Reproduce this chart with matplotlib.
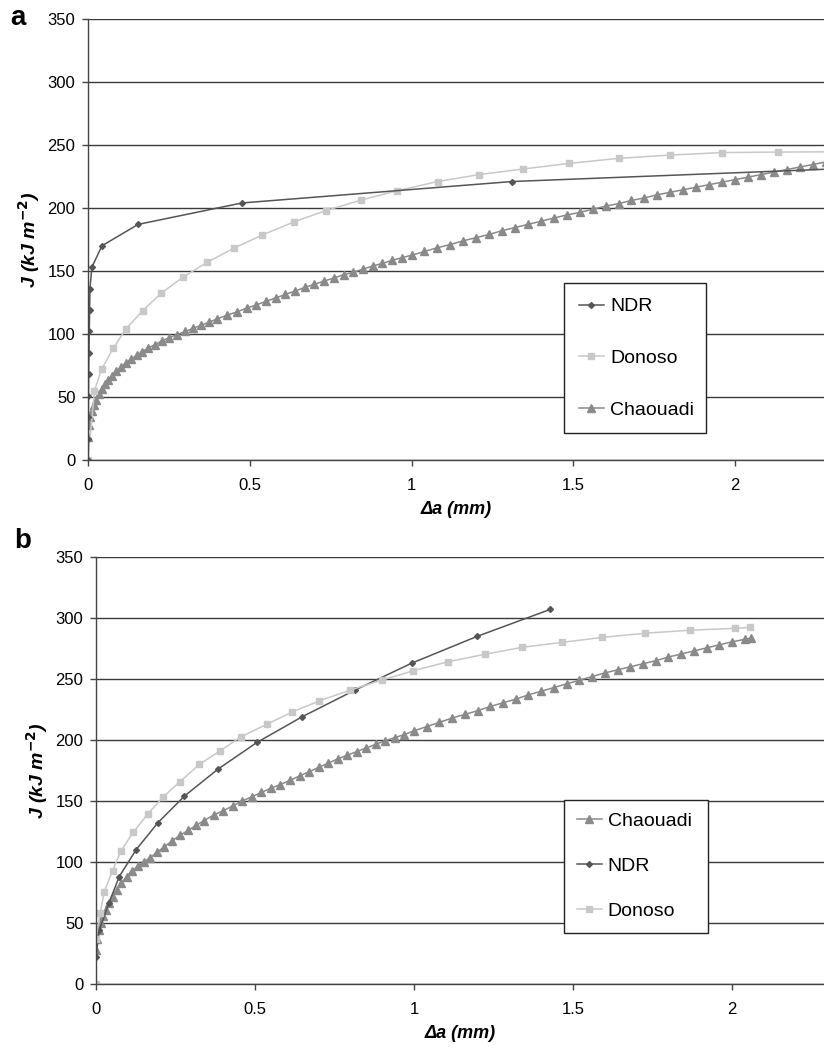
import numpy as np
import matplotlib
matplotlib.use("Agg")
import matplotlib.pyplot as plt

plt.rcParams['font.family'] = ['Liberation Sans', 'DejaVu Sans']

# ---- panel a data ----
a_ndr_x = [0.0, 0.0005, 0.001, 0.0015, 0.002, 0.003, 0.004, 0.005, 0.006,
           0.012, 0.043, 0.155, 0.476, 1.31, 3.0]
a_ndr_y = [0, 17, 34, 51, 68, 85, 102, 119, 136, 153, 170, 187, 204, 221, 238]

a_don_x = [0.0, 0.02, 0.042, 0.078, 0.117, 0.169, 0.227, 0.293, 0.369, 0.45,
           0.539, 0.637, 0.736, 0.844, 0.956, 1.081, 1.209, 1.346, 1.488,
           1.64, 1.798, 1.961, 2.132, 2.3]
a_don_y = [0, 55, 72, 88.6, 104, 118.5, 132.5, 145, 157, 168, 178.6, 189,
           198, 206.3, 213.7, 221, 226.5, 231, 235.4, 239.4, 242, 244, 244.4,
           244.6]

a_cha_x = [0.0, 0.003, 0.007, 0.012, 0.018, 0.025, 0.033, 0.042, 0.052, 0.063,
           0.075, 0.088, 0.102, 0.117, 0.133, 0.15, 0.168, 0.187, 0.207, 0.228,
           0.25, 0.275, 0.3, 0.325, 0.35, 0.375, 0.4, 0.43, 0.46, 0.49, 0.52,
           0.55, 0.58, 0.61, 0.64, 0.67, 0.7, 0.73, 0.76, 0.79, 0.82, 0.85,
           0.88, 0.91, 0.94, 0.97, 1.0, 1.04, 1.08, 1.12, 1.16, 1.2, 1.24,
           1.28, 1.32, 1.36, 1.4, 1.44, 1.48, 1.52, 1.56, 1.6, 1.64, 1.68,
           1.72, 1.76, 1.8, 1.84, 1.88, 1.92, 1.96, 2.0, 2.04, 2.08, 2.12,
           2.16, 2.2, 2.24, 2.28]
a_cha_y = [18, 28, 34, 39, 44, 48, 52, 56, 60, 63.5, 67, 70.5, 73.5, 77, 80,
           83, 86, 89, 91.5, 94.5, 97, 99.5, 102, 104.5, 107, 109.5, 112, 115,
           117.5, 120.5, 123, 126, 128.5, 131.5, 134, 137, 139.5, 142, 144.5,
           147, 149, 151.5, 154, 156, 158.5, 160.5, 162.5, 165.5, 168.5, 171,
           174, 176.5, 179, 182, 184.5, 187, 189.5, 192, 194.5, 196.5, 199,
           201.5, 203.5, 206, 208, 210.5, 212.5, 214.5, 216.5, 218.5, 220.5,
           222.5, 224.5, 226.5, 228.5, 230.5, 232.5, 234.5, 236.5]

# ---- panel b data ----
b_ndr_x = [0.0, 0.01, 0.04, 0.073, 0.126, 0.194, 0.278, 0.383, 0.506, 0.648,
           0.815, 0.993, 1.199, 1.428]
b_ndr_y = [22, 44, 66, 88, 110, 132, 154, 176, 198, 219, 241, 263, 285, 307]

b_don_x = [0.0, 0.0, 0.013, 0.026, 0.052, 0.079, 0.117, 0.162, 0.21, 0.264,
           0.325, 0.391, 0.456, 0.537, 0.615, 0.702, 0.80, 0.898, 0.998,
           1.108, 1.222, 1.341, 1.465, 1.592, 1.726, 1.868, 2.009, 2.058]
b_don_y = [0, 37, 58, 75.7, 92.9, 109.3, 124.3, 139.1, 153, 165.8, 180,
           191.2, 202.7, 212.9, 222.7, 232, 241, 249, 256.8, 264.2, 270.2,
           276, 280, 284.1, 287.5, 290, 291.5, 292.3]

b_cha_x = [0.0, 0.004, 0.009, 0.015, 0.022, 0.03, 0.04, 0.052, 0.065, 0.08,
           0.096, 0.113, 0.131, 0.15, 0.17, 0.192, 0.215, 0.24, 0.265, 0.29,
           0.315, 0.34, 0.37, 0.4, 0.43, 0.46, 0.49, 0.52, 0.55, 0.58, 0.61,
           0.64, 0.67, 0.7, 0.73, 0.76, 0.79, 0.82, 0.85, 0.88, 0.91, 0.94,
           0.97, 1.0, 1.04, 1.08, 1.12, 1.16, 1.2, 1.24, 1.28, 1.32, 1.36,
           1.4, 1.44, 1.48, 1.52, 1.56, 1.6, 1.64, 1.68, 1.72, 1.76, 1.8,
           1.84, 1.88, 1.92, 1.96, 2.0, 2.04, 2.06]
b_cha_y = [28, 37, 44, 50, 55.5, 60.5, 66, 71.5, 77, 82.5, 88, 92.5, 96.5,
           100, 103.5, 108, 112.5, 117.5, 122, 126, 130, 134, 138.5, 142, 146,
           150, 153.5, 157, 160.5, 163.5, 167, 170.5, 174, 177.5, 181, 184.5,
           187.5, 190.5, 193.5, 196.5, 199.5, 202, 204.5, 207.5, 211, 214.5,
           218, 221, 224, 227.5, 230.5, 233.5, 237, 240, 243, 246, 249, 252,
           255, 257.5, 260, 262.5, 265, 268, 270.5, 273, 275.5, 278, 280.5,
           282.5, 283.5]

x_ticks = [0, 0.5, 1, 1.5, 2]
x_tick_labels = ["0", "0.5", "1", "1.5", "2"]
y_ticks = list(range(0, 351, 50))

c_ndr = "#555555"
c_don = "#c8c8c8"
c_cha = "#8a8a8a"


def style_axes(ax, xmax):
    ax.set_xlim(0, xmax)
    ax.set_ylim(0, 350)
    ax.set_xticks(x_ticks)
    ax.set_xticklabels(x_tick_labels)
    ax.set_yticks(y_ticks)
    ax.tick_params(labelsize=12, length=4, width=1, color="#444444")
    ax.tick_params(axis="x", pad=9)
    ax.tick_params(axis="y", pad=5)
    ax.yaxis.grid(True, color="#3a3a3a", linewidth=1.0)
    ax.set_axisbelow(True)
    for s in ["top", "right"]:
        ax.spines[s].set_visible(False)
    for s in ["left", "bottom"]:
        ax.spines[s].set_color("#444444")
        ax.spines[s].set_linewidth(1.0)
    ax.set_ylabel("J (kJ m$^{\\mathbf{-2}}$)", fontsize=14, fontweight="bold",
                  fontstyle="italic", labelpad=4)
    ax.set_xlabel("Δa (mm)", fontsize=13, fontweight="bold",
                  fontstyle="italic", labelpad=6)


def plot_ndr(ax, x, y):
    ax.plot(x, y, "-", color=c_ndr, lw=1.1, marker="D", ms=3,
            mfc=c_ndr, mec=c_ndr, label="NDR", clip_on=True)


def plot_don(ax, x, y):
    ax.plot(x, y, "-", color=c_don, lw=1.1, marker="s", ms=4,
            mfc=c_don, mec=c_don, label="Donoso")


def plot_cha(ax, x, y):
    ax.plot(x, y, "-", color=c_cha, lw=1.1, marker="^", ms=5.5,
            mfc=c_cha, mec=c_cha, label="Chaouadi")


fig = plt.figure(figsize=(8.24, 10.53), dpi=100)

ax1 = fig.add_axes([88 / 824, 1 - 460 / 1053, 1 - 88 / 824, 441 / 1053])
plot_cha(ax1, a_cha_x, a_cha_y)
plot_don(ax1, a_don_x, a_don_y)
plot_ndr(ax1, a_ndr_x, a_ndr_y)
style_axes(ax1, (824 - 88) / 323.5)
h, l = ax1.get_legend_handles_labels()
order = [2, 1, 0]
leg1 = ax1.legend([h[i] for i in order], [l[i] for i in order],
                  loc="upper left", bbox_to_anchor=(0.647, 0.401, 0.193, 0.0),
                  mode="expand", fontsize=14, labelspacing=1.75,
                  borderpad=0.75, handlelength=1.3, handletextpad=0.3,
                  fancybox=False, framealpha=1, edgecolor="#222222",
                  borderaxespad=0)
leg1.get_frame().set_linewidth(1.0)

ax2 = fig.add_axes([96 / 824, 1 - 984 / 1053, 1 - 96 / 824, 427 / 1053])
plot_cha(ax2, b_cha_x, b_cha_y)
plot_ndr(ax2, b_ndr_x, b_ndr_y)
plot_don(ax2, b_don_x, b_don_y)
style_axes(ax2, (824 - 96) / 318)
leg2 = ax2.legend(loc="upper left", bbox_to_anchor=(0.643, 0.431, 0.198, 0.0),
                  mode="expand", fontsize=14, labelspacing=1.4,
                  borderpad=0.65, handlelength=1.3, handletextpad=0.3,
                  fancybox=False, framealpha=1, edgecolor="#222222",
                  borderaxespad=0)
leg2.get_frame().set_linewidth(1.0)

fig.text(10 / 824, 1 - 18 / 1053, "a", fontsize=20, fontweight="bold",
         va="center", ha="left")
fig.text(14 / 824, 1 - 541 / 1053, "b", fontsize=20, fontweight="bold",
         va="center", ha="left")

fig.savefig("out.png", dpi=100)
